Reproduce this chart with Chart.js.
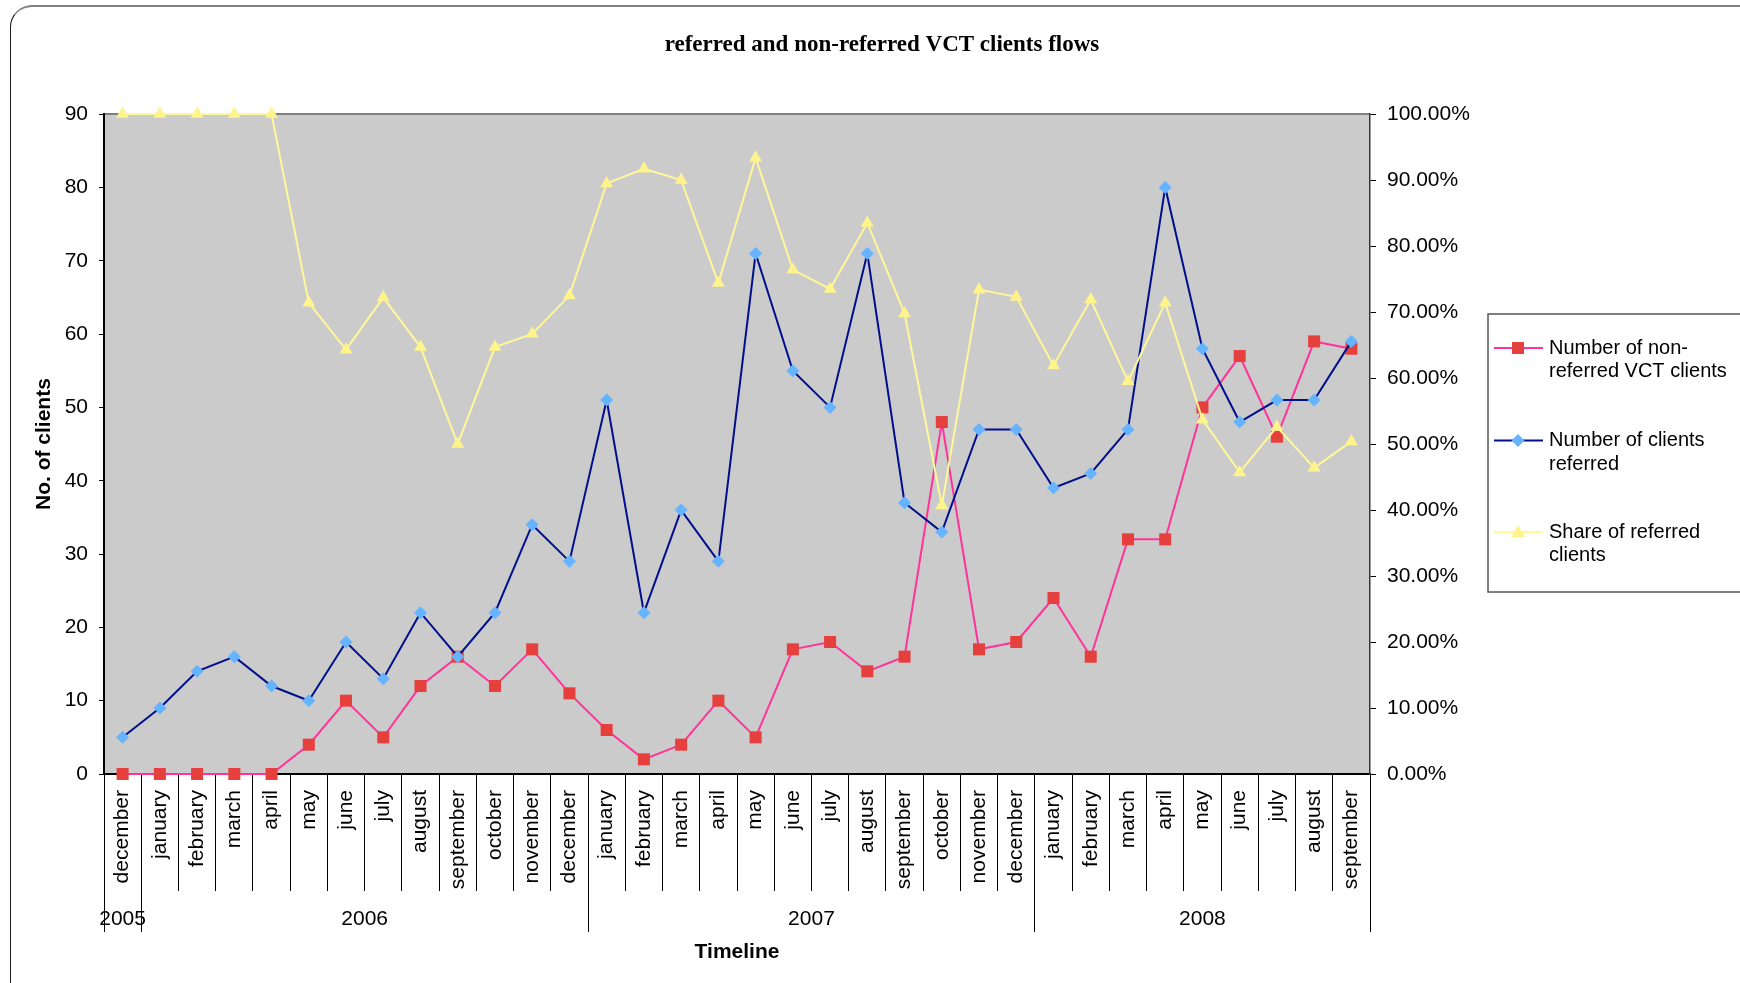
<!DOCTYPE html>
<html>
<head>
<meta charset="utf-8">
<title>referred and non-referred VCT clients flows</title>
<script src="https://cdn.jsdelivr.net/npm/chart.js@4.4.0/dist/chart.umd.min.js"></script>
<style>
  html, body { margin: 0; padding: 0; background: #fff; overflow: hidden; }
  #frame {
    position: absolute; left: 10px; top: 5px; width: 1800px; height: 1100px;
    border-top: 2px solid #808080; border-left: 1.5px solid #1a1a1a;
    border-top-left-radius: 22px;
  }
  #chart { position: absolute; left: 0; top: 0; }
</style>
</head>
<body>
<div id="frame"></div>
<canvas id="chart" width="1740" height="983"></canvas>
<script>
const months = [
  "december",
  "january", "february", "march", "april", "may", "june", "july", "august", "september", "october", "november", "december",
  "january", "february", "march", "april", "may", "june", "july", "august", "september", "october", "november", "december",
  "january", "february", "march", "april", "may", "june", "july", "august", "september"
];
const yearLabels = ["2005", "2006", "2007", "2008"];
const monthsPerYear = [1, 12, 12, 9];

const nonReferred = [0, 0, 0, 0, 0, 4, 10, 5, 12, 16, 12, 17, 11, 6, 2, 4, 10, 5, 17, 18, 14, 16, 48, 17, 18, 24, 16, 32, 32, 50, 57, 46, 59, 58];
const referred = [5, 9, 14, 16, 12, 10, 18, 13, 22, 16, 22, 34, 29, 51, 22, 36, 29, 71, 55, 50, 71, 37, 33, 47, 47, 39, 41, 47, 80, 58, 48, 51, 51, 59];
const shareReferred = [100, 100, 100, 100, 100, 71.4, 64.3, 72.2, 64.7, 50.0, 64.7, 66.7, 72.5, 89.5, 91.7, 90.0, 74.4, 93.4, 76.4, 73.5, 83.5, 69.8, 40.7, 73.4, 72.3, 61.9, 71.9, 59.5, 71.4, 53.7, 45.7, 52.6, 46.4, 50.4];

const seriesNames = [
  ["Number of non-", "referred VCT clients"],
  ["Number of clients", "referred"],
  ["Share of referred", "clients"]
];

// year boundaries and centres on the month index scale
const yearBounds = [-0.5];
const yearCenters = [];
monthsPerYear.forEach((n) => {
  const start = yearBounds[yearBounds.length - 1];
  yearCenters.push(start + n / 2);
  yearBounds.push(start + n);
});

const FONT = "'Liberation Sans', Arial, sans-serif";
Chart.defaults.font.family = FONT;
Chart.defaults.color = "#000";

const styles = [
  { line: "#FF3399", fill: "#E5403E", point: "rect" },
  { line: "#000F8C", fill: "#66B3FF", point: "rectRot" },
  { line: "#FFF799", fill: "#FFF38C", point: "triangle" }
];

const plotBackground = {
  id: "plotBackground",
  beforeDraw(chart) {
    const { ctx, chartArea: a } = chart;
    ctx.save();
    ctx.fillStyle = "#CBCBCB";
    ctx.fillRect(a.left, a.top, a.right - a.left, a.bottom - a.top);
    ctx.strokeStyle = "#808080";
    ctx.lineWidth = 2;
    ctx.beginPath();
    ctx.moveTo(a.left, a.top);
    ctx.lineTo(a.right, a.top);
    ctx.stroke();
    ctx.restore();
  }
};

function drawMarker(ctx, kind, x, y) {
  ctx.beginPath();
  if (kind === "rect") {
    ctx.rect(x - 6, y - 6, 12, 12);
  } else if (kind === "rectRot") {
    ctx.moveTo(x, y - 6.5); ctx.lineTo(x + 6.5, y); ctx.lineTo(x, y + 6.5); ctx.lineTo(x - 6.5, y);
  } else {
    ctx.moveTo(x, y - 7); ctx.lineTo(x + 7, y + 5); ctx.lineTo(x - 7, y + 5);
  }
  ctx.closePath();
  ctx.fill();
}

const sideLegend = {
  id: "sideLegend",
  afterDraw(chart) {
    const { ctx } = chart;
    ctx.save();
    ctx.fillStyle = "#fff";
    ctx.fillRect(1488, 314, 300, 278);
    ctx.strokeStyle = "#555";
    ctx.lineWidth = 1.5;
    ctx.strokeRect(1488, 314, 300, 278);
    ctx.font = "20px " + FONT;
    ctx.textBaseline = "middle";
    const rowY = [348, 440.5, 532];
    seriesNames.forEach((lines, i) => {
      const y = rowY[i];
      ctx.strokeStyle = styles[i].line;
      ctx.lineWidth = 2;
      ctx.beginPath();
      ctx.moveTo(1494, y);
      ctx.lineTo(1543, y);
      ctx.stroke();
      ctx.fillStyle = styles[i].fill;
      drawMarker(ctx, styles[i].point, 1518, y);
      ctx.fillStyle = "#000";
      lines.forEach((t, j) => ctx.fillText(t, 1549, y + j * 23.5));
    });
    ctx.restore();
  }
};

function series(idx, data, axis, radius, order) {
  return {
    label: seriesNames[idx].join(""),
    data: data,
    xAxisID: "x",
    yAxisID: axis,
    borderColor: styles[idx].line,
    borderWidth: 2,
    pointStyle: styles[idx].point,
    pointRadius: radius,
    pointHoverRadius: radius,
    pointBackgroundColor: styles[idx].fill,
    pointBorderColor: styles[idx].fill,
    pointBorderWidth: 0,
    tension: 0,
    clip: false,
    order: order
  };
}

new Chart(document.getElementById("chart"), {
  type: "line",
  data: {
    labels: months,
    datasets: [
      series(0, nonReferred, "y", 8.5, 3),
      series(1, referred, "y", 6.5, 2),
      series(2, shareReferred, "y1", 7.5, 1)
    ]
  },
  options: {
    responsive: false,
    animation: false,
    devicePixelRatio: 1,
    layout: { padding: { left: 24, right: 0, top: 0, bottom: 0 } },
    plugins: {
      legend: { display: false },
      tooltip: { enabled: false },
      title: {
        display: true,
        text: "referred and non-referred VCT clients flows",
        color: "#000",
        font: { family: "'Liberation Serif', 'Times New Roman', serif", weight: "bold", size: 23 },
        padding: { top: 31.5, bottom: 55 }
      }
    },
    scales: {
      x: {
        type: "category",
        position: "bottom",
        weight: 0,
        offset: true,
        grid: { offset: true, drawOnChartArea: false, tickLength: 117, color: "#000", lineWidth: 1 },
        border: { color: "#000", width: 2 },
        ticks: { autoSkip: false, maxRotation: 90, minRotation: 90, padding: -101, font: { size: 21 }, color: "#000" },
        afterFit: (s) => { s.height = 117; }
      },
      x2: {
        type: "linear",
        axis: "x",
        position: "bottom",
        weight: 1,
        min: yearBounds[0],
        max: yearBounds[yearBounds.length - 1],
        bounds: "data",
        afterBuildTicks: (s) => {
          s.ticks = [...yearBounds, ...yearCenters].sort((a, b) => a - b).map((value) => ({ value }));
        },
        grid: {
          drawOnChartArea: false,
          tickLength: 41,
          color: (c) => (yearBounds.includes(c.tick && c.tick.value) ? "#000" : "rgba(0,0,0,0)"),
          tickColor: (c) => (yearBounds.includes(c.tick && c.tick.value) ? "#000" : "rgba(0,0,0,0)")
        },
        border: { display: false },
        ticks: {
          autoSkip: false,
          maxRotation: 0,
          minRotation: 0,
          padding: -25.6,
          font: { size: 21 },
          color: "#000",
          callback: (value) => {
            const i = yearCenters.indexOf(value);
            return i >= 0 ? yearLabels[i] : "";
          }
        },
        title: {
          display: true,
          text: "Timeline",
          color: "#000",
          font: { size: 21, weight: "bold" },
          padding: { top: 0, bottom: 18.4 }
        },
        afterFit: (s) => { s.height = 92; }
      },
      y: {
        position: "left",
        min: 0,
        max: 90,
        ticks: { stepSize: 10, padding: 11, font: { size: 21 }, color: "#000" },
        grid: { drawOnChartArea: false, tickLength: 5, color: "#000" },
        border: { color: "#000", width: 2 },
        title: {
          display: true,
          text: "No. of clients",
          color: "#000",
          font: { size: 21, weight: "bold" },
          padding: { top: 7.4, bottom: 0 }
        },
        afterFit: (s) => { s.width = 80; }
      },
      y1: {
        position: "right",
        min: 0,
        max: 100,
        ticks: {
          stepSize: 10,
          padding: 11,
          font: { size: 21 },
          color: "#000",
          callback: (v) => v.toFixed(2) + "%"
        },
        grid: { drawOnChartArea: false, tickLength: 6, color: "#000" },
        border: { color: "#333", width: 1.5 },
        afterFit: (s) => { s.width = 370; }
      }
    }
  },
  plugins: [plotBackground, sideLegend]
});
</script>
</body>
</html>
